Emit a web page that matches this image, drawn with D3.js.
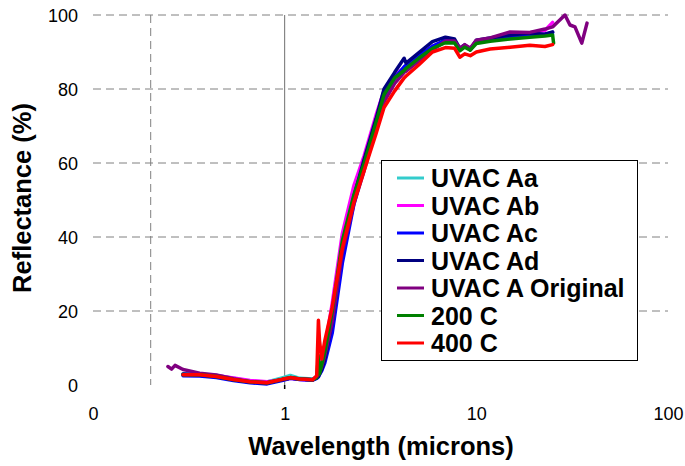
<!DOCTYPE html>
<html><head><meta charset="utf-8">
<script src="https://cdn.jsdelivr.net/npm/d3@7"></script>
<style>
html,body{margin:0;padding:0;background:#fff;}
svg{display:block;font-family:"Liberation Sans",Arial,sans-serif;}
</style></head>
<body><svg id="chart" width="685" height="466"></svg>
<script>
const wavelength = [0.246,0.257,0.268,0.295,0.36,0.44,0.54,0.66,0.81,0.98,1.07,1.2,1.4,1.47,1.5,1.52,1.56,1.62,1.77,2.0,2.3,2.6,3.0,3.3,3.75,4.2,4.3,5.0,5.9,6.9,7.7,8.2,8.7,9.3,10,11.8,15,19,22.8,25,25.3,29,30.8,32.7,35.5,37.8];
const uvacAa = [null,null,null,3.0,3.0,2.6,1.8,1.0,0.8,2.0,2.6,1.8,1.6,2.2,2.8,3.5,5,8,19,38,51,60,71,78.5,83,85.5,86,88.5,91,92.8,92.6,90.6,91.6,90.8,92.6,93.2,93.8,94.3,94.6,94.8,null,null,null,null,null,null];
const uvacAb = [null,null,null,2.8,2.9,2.6,1.9,1.2,0.9,1.4,1.8,1.5,1.3,2.2,3,4,6,10,22,41,54,62,73,79.5,83.5,85.8,86.2,88.8,91.5,93,92.8,90.8,91.8,91,93,93.6,94.6,95.2,95.8,98,null,null,null,null,null,null];
const uvacAc = [null,null,null,2.5,2.4,2.0,1.2,0.6,0.3,1.3,1.8,1.5,1.3,1.8,2.2,2.8,3.8,6,14,33,49,59,70,78,83,86,86.5,89,91.5,93.2,93,90.8,91.8,90.6,92.8,93.4,94,94.6,94.8,95.3,null,null,null,null,null,null];
const uvacAd = [null,null,null,3.0,2.8,2.3,1.4,0.8,0.5,1.5,1.9,1.6,1.4,2.0,2.4,3.0,4.2,7,17,37,51,61,72,80,84.5,88.3,87,89.8,92.8,94,93.5,91,91.9,90.6,93.2,93.8,94.6,95.1,94.8,95.4,null,null,null,null,null,null];
const uvacOriginal = [5.0,4.3,5.3,4.2,3.2,2.7,1.7,0.9,0.6,1.5,1.9,1.6,1.4,2.2,2.8,3.5,5,8,17,36,49,58,69.5,76.5,81.5,84.5,84.8,87.5,90.5,93,93,91,92,91,93.2,93.8,95.4,95.3,96.2,96.8,97,100,97.3,96.8,92.4,97.8];
const c200 = [null,null,null,2.8,2.8,2.3,1.5,0.9,0.6,1.6,2.0,1.6,1.4,2.0,8,3,5.5,9,20,39,51.5,60,71,78.5,83,85,85.6,88.3,91,92.5,92.4,90.3,91.3,90.5,92.3,92.9,93.5,94,94.3,94.6,92.4,null,null,null,null,null];
const c400 = [null,null,null,2.8,2.8,2.3,1.5,0.9,0.6,1.6,2.0,1.6,1.4,2.5,17.5,12,7,12,21,37,49.5,58,68,75,79.5,83,83.5,86.5,90,91.2,91,88.6,89.5,89,90,90.8,91.3,91.8,91.5,92,null,null,null,null,null,null];
const seriesNames = ["UVAC Aa","UVAC Ab","UVAC Ac","UVAC Ad","UVAC A Original","200 C","400 C"];
const seriesColors = ["#33CCCC","#FF00FF","#0000FF","#000080","#800080","#008000","#FF0000"];
const yTicks = [0,20,40,60,80,100];
const yGridValues = [20,40,60,80,100];
const xTickValues = [0.1,1,10,100];
const xTickLabels = ["0","1","10","100"];
const xDashedGrid = [0.2];

const seriesValues = [uvacAa,uvacAb,uvacAc,uvacAd,uvacOriginal,c200,c400];

const svg = d3.select("#chart");
const x = d3.scaleLog().domain([0.1,100]).range([93,668]);
const y = d3.scaleLinear().domain([0,100]).range([385,15]);

svg.append("g").selectAll("line").data(yGridValues).join("line")
  .attr("x1",x(0.1)).attr("x2",x(100))
  .attr("y1",d=>y(d)).attr("y2",d=>y(d))
  .attr("stroke","#808080").attr("stroke-width",1).attr("stroke-dasharray","8,5");
svg.append("g").selectAll("line").data(xDashedGrid).join("line")
  .attr("x1",d=>x(d)).attr("x2",d=>x(d))
  .attr("y1",y(100)).attr("y2",y(0))
  .attr("stroke","#808080").attr("stroke-width",1).attr("stroke-dasharray","8,5");
svg.append("line").attr("x1",x(1)).attr("x2",x(1)).attr("y1",y(100)).attr("y2",y(0))
  .attr("stroke","#707070").attr("stroke-width",1);
svg.append("line").attr("x1",x(1)).attr("x2",x(1)).attr("y1",y(0)).attr("y2",y(0)+4)
  .attr("stroke","#000").attr("stroke-width",1.5);

const yAxis = d3.axisLeft(y).tickValues(yTicks).tickSize(0).tickPadding(0);
const gy = svg.append("g").attr("transform","translate(78,0)").call(yAxis);
gy.select(".domain").remove();
gy.selectAll("text").attr("font-size","18px").attr("fill","#000")
  .attr("font-family","'Liberation Sans',Arial,sans-serif").attr("dy","0.35em");

const xAxis = d3.axisBottom(x).tickValues(xTickValues).tickSize(0).tickPadding(0)
  .tickFormat((d,i)=>xTickLabels[i]);
const gx = svg.append("g").attr("transform","translate(0,407)").call(xAxis);
gx.select(".domain").remove();
gx.selectAll("text").attr("font-size","18px").attr("fill","#000")
  .attr("font-family","'Liberation Sans',Arial,sans-serif").attr("dy","0.72em");

const line = d3.line().defined(d=>d[1]!=null).x(d=>x(d[0])).y(d=>y(d[1]));
seriesValues.forEach((vals,i)=>{
  const pts = wavelength.map((w,j)=>[w,vals[j]]);
  svg.append("path").datum(pts).attr("d",line)
    .attr("fill","none").attr("stroke",seriesColors[i]).attr("stroke-width",3.5)
    .attr("stroke-linejoin","round").attr("stroke-linecap","round");
});

svg.append("text").attr("x",381).attr("y",455).attr("text-anchor","middle")
  .attr("font-size","25.5px").attr("font-weight","bold").text("Wavelength (microns)");
svg.append("text").attr("transform","translate(31,198) rotate(-90)").attr("text-anchor","middle")
  .attr("font-size","25.5px").attr("font-weight","bold").text("Reflectance (%)");

const lg = svg.append("g");
lg.append("rect").attr("x",381.5).attr("y",160.5).attr("width",256).attr("height",200)
  .attr("fill","#fff").attr("stroke","#000").attr("stroke-width",1);
seriesNames.forEach((name,i)=>{
  const cy = 178 + i*27.5;
  lg.append("line").attr("x1",397).attr("x2",424).attr("y1",cy).attr("y2",cy)
    .attr("stroke",seriesColors[i]).attr("stroke-width",3);
  lg.append("text").attr("x",431).attr("y",cy).attr("dy","0.36em")
    .attr("font-size","25px").attr("font-weight","bold").text(name);
});
</script></body></html>
